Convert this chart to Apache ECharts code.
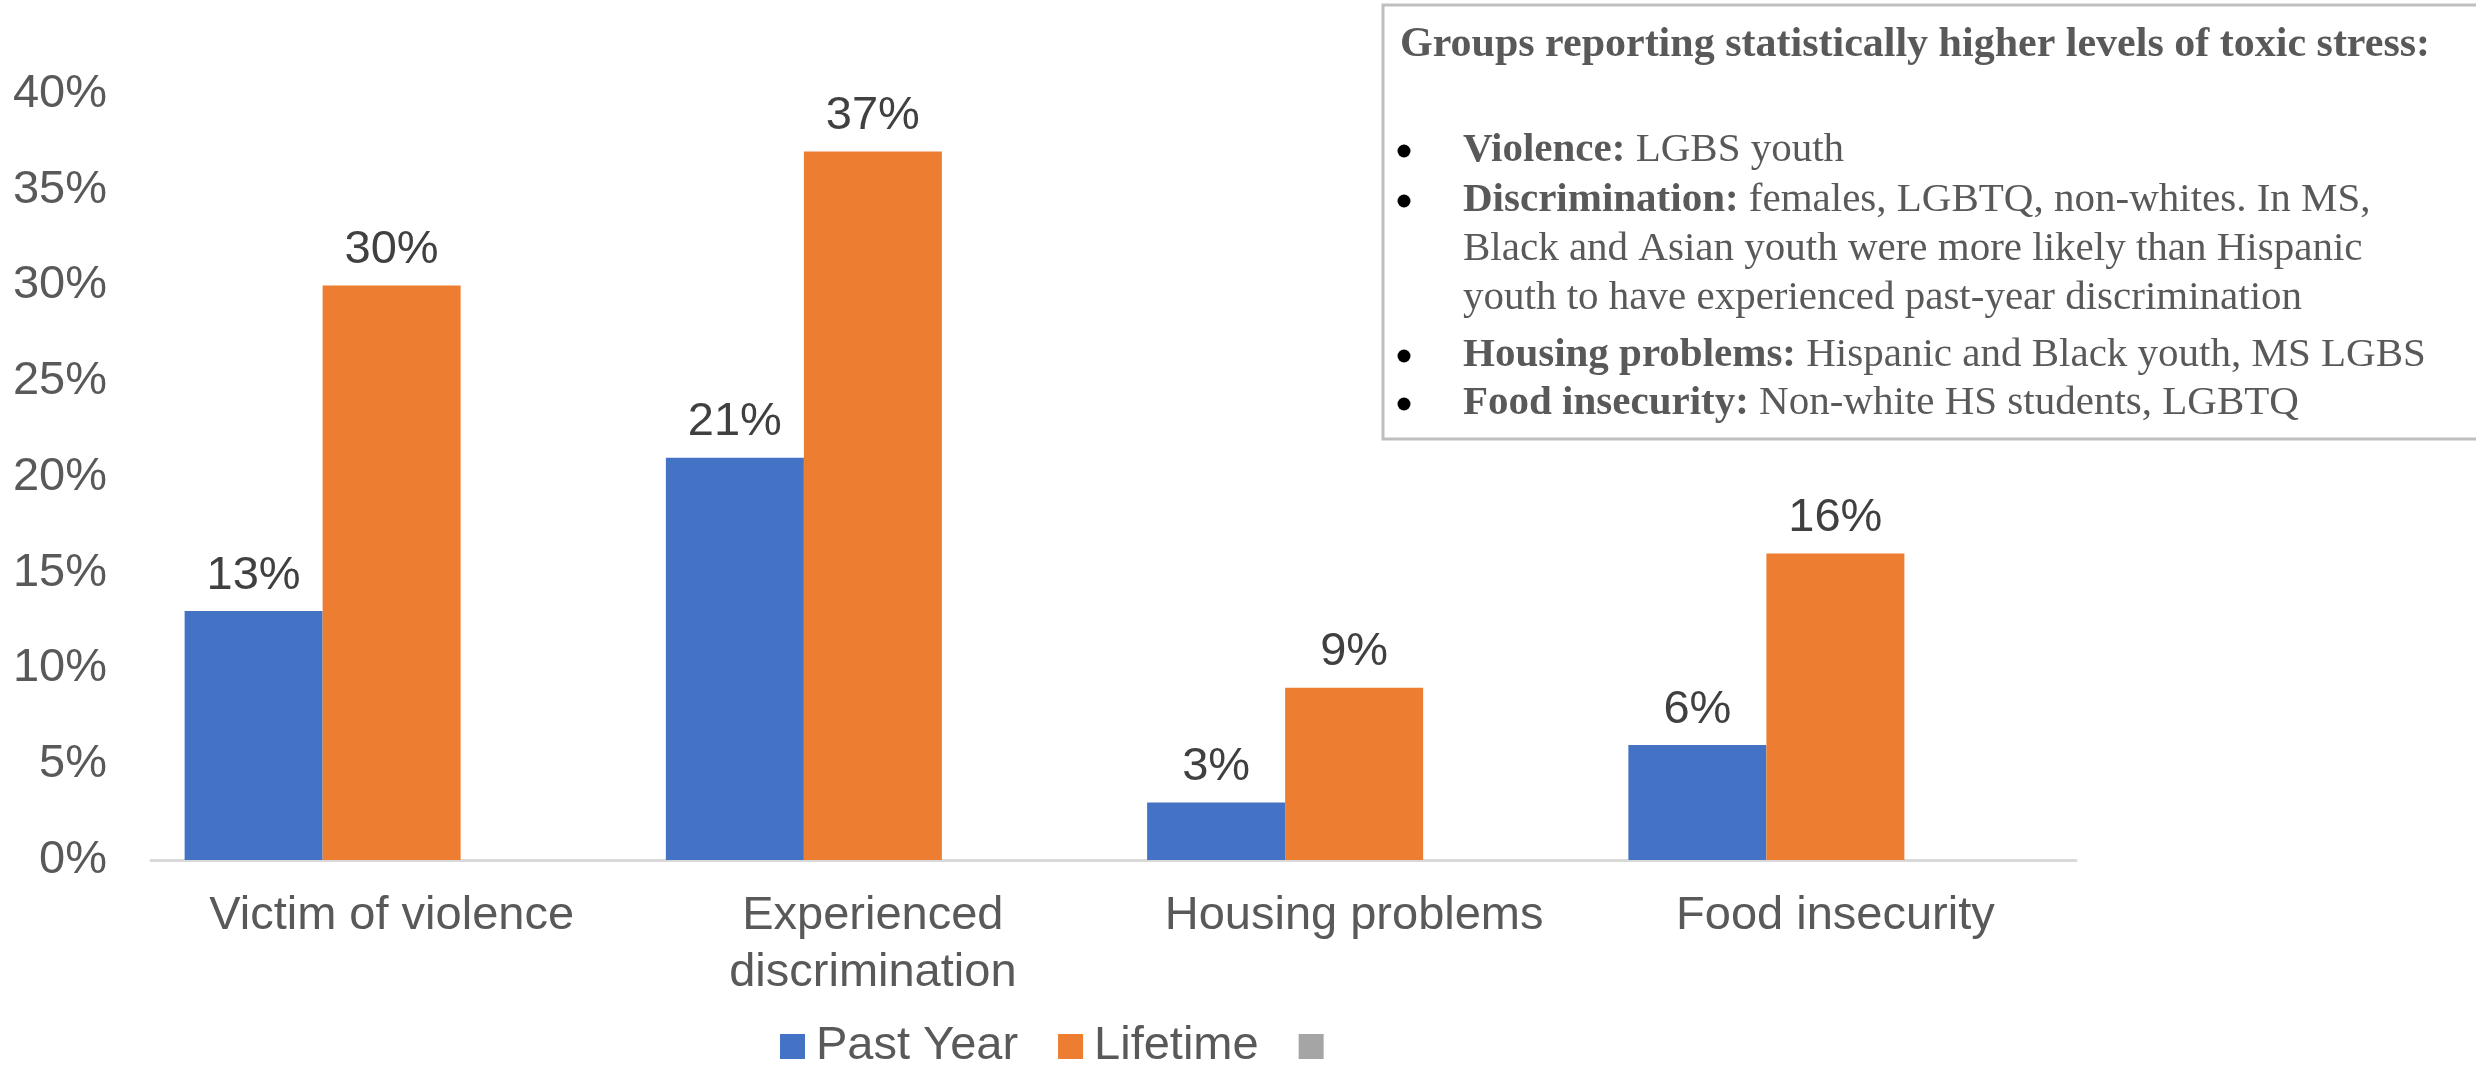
<!DOCTYPE html>
<html>
<head>
<meta charset="utf-8">
<script src="https://cdn.jsdelivr.net/npm/echarts@6/dist/echarts.min.js"></script>
<style>
  html, body { margin: 0; padding: 0; background: #fff; }
  #chart { width: 2476px; height: 1067px; }
</style>
</head>
<body>
<div id="chart"></div>
<script>
/***** data *****/
var categories = ['Victim of violence', 'Experienced\ndiscrimination', 'Housing problems', 'Food insecurity'];
var pastYear = [13, 21, 3, 6];
var lifetime = [30, 37, 9, 16];
var blankSeries = [null, null, null, null]; // third (empty) series kept in the legend
var yTicks = { min: 0, max: 40, step: 5 };

var boxTitle = 'Groups reporting statistically higher levels of toxic stress:';
var boxLines = [
	['Violence:', ' LGBS youth'],
	['Discrimination:', ' females, LGBTQ, non-whites. In MS,'],
	['', 'Black and Asian youth were more likely than Hispanic'],
	['', 'youth to have experienced past-year discrimination'],
	['Housing problems:', ' Hispanic and Black youth, MS LGBS'],
	['Food insecurity:', ' Non-white HS students, LGBTQ']
];
var boxLineY = [150, 200, 249, 298, 355, 403];

/***** chart *****/
var myChart = echarts.init(document.getElementById('chart'));
var sans = 'Liberation Sans, Arial, sans-serif';
var serif = 'Liberation Serif, Times New Roman, serif';

// build the note box (rect + title + bullet lines)
var boxItems = [{
	type: 'rect',
	shape: { x: 1383, y: 5, width: 1200, height: 434 },
	style: { fill: '#fff', stroke: '#bfbfbf', lineWidth: 3 },
	z: 10
}, {
	type: 'text',
	x: 1400, y: 45,
	style: { text: boxTitle, font: 'bold 42px ' + serif, fill: '#595959', verticalAlign: 'middle' },
	z: 11
}];
boxLines.forEach(function (line, i) {
	if (line[0]) {
		boxItems.push({
			type: 'circle',
			shape: { cx: 1404, cy: boxLineY[i] + 1, r: 6.5 },
			style: { fill: '#000' },
			z: 11
		});
	}
	var txt = (line[0] ? '{b|' + line[0] + '}' : '') + '{n|' + line[1] + '}';
	boxItems.push({
		type: 'text',
		x: 1463, y: boxLineY[i],
		style: {
			text: txt,
			verticalAlign: 'middle',
			rich: {
				b: { font: 'bold 41px ' + serif, fill: '#595959' },
				n: { font: '41px ' + serif, fill: '#595959' }
			}
		},
		z: 11
	});
});

var labelStyle = {
	show: true,
	position: 'top',
	distance: 12,
	formatter: '{c}%',
	fontFamily: sans,
	fontSize: 47,
	color: '#404040'
};

var option = {
	animation: false,
	backgroundColor: '#fff',
	grid: { left: 151, right: 400, top: 94, bottom: 207, containLabel: false },
	legend: {
		left: 775,
		top: 1018,
		itemWidth: 25,
		itemHeight: 25,
		itemGap: 40,
		icon: 'rect',
		textStyle: { fontFamily: sans, fontSize: 47, color: '#595959', padding: [0, 0, 0, 6] },
		data: ['Past Year', 'Lifetime', ' ']
	},
	xAxis: {
		type: 'category',
		data: categories,
		axisLine: { lineStyle: { color: '#d9d9d9', width: 3 } },
		axisTick: { show: false },
		axisLabel: {
			interval: 0,
			margin: 28,
			fontFamily: sans,
			fontSize: 47,
			lineHeight: 57,
			color: '#595959'
		}
	},
	yAxis: {
		type: 'value',
		min: yTicks.min,
		max: yTicks.max,
		interval: yTicks.step,
		splitLine: { show: false },
		axisLine: { show: false },
		axisTick: { show: false },
		axisLabel: {
			formatter: '{value}%',
			margin: 44,
			fontFamily: sans,
			fontSize: 47,
			color: '#595959'
		}
	},
	series: [{
		name: 'Past Year',
		type: 'bar',
		data: pastYear,
		barWidth: 138,
		barGap: '0%',
		itemStyle: { color: '#4472C4' },
		label: labelStyle
	}, {
		name: 'Lifetime',
		type: 'bar',
		data: lifetime,
		barWidth: 138,
		barGap: '0%',
		itemStyle: { color: '#ED7D31' },
		label: labelStyle
	}, {
		name: ' ',
		type: 'bar',
		data: blankSeries,
		barWidth: 138,
		barGap: '0%',
		itemStyle: { color: '#A5A5A5' }
	}],
	graphic: boxItems
};

myChart.setOption(option);
</script>
</body>
</html>
